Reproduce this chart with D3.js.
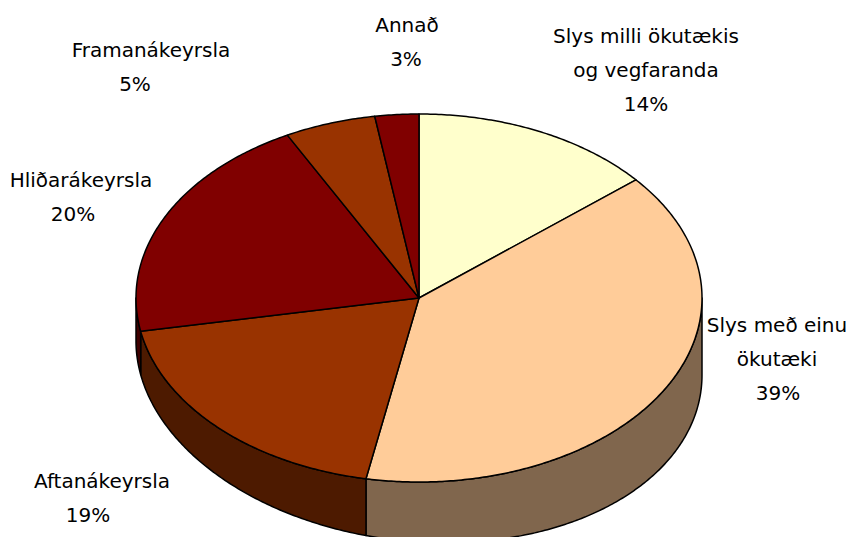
<!DOCTYPE html>
<html><head><meta charset="utf-8">
<script src="https://cdn.jsdelivr.net/npm/d3@7"></script>
<style>body{margin:0;background:#fff} svg{display:block}</style>
</head><body>
<svg id="chart" width="853" height="537"></svg>
<script>
// ---- data ----
const categories = ["Slys milli ökutækis og vegfaranda", "Slys með einu ökutæki", "Aftanákeyrsla", "Hliðarákeyrsla", "Framanákeyrsla", "Annað"];
const values = [13.9, 39.1, 19.1, 20.2, 5.2, 2.5];
const colors = ["#FFFFCC", "#FFCC99", "#993300", "#800000", "#993300", "#800000"];
// how category names wrap into lines
const labelLines = [["Slys milli ökutækis", "og vegfaranda"], ["Slys með einu", "ökutæki"], ["Aftanákeyrsla"], ["Hliðarákeyrsla"], ["Framanákeyrsla"], ["Annað"]];

// ---- layout ----
const W = 853, H = 537;
const cx = 419, cy = 298, rx = 283, ry = 184;
const depth0 = 60, depthSlope = 0.06;
const labelLayout = [
  {x: 646, px: 646, y: 43},
  {x: 777, px: 778, y: 332},
  {x: 102, px: 88, y: 488},
  {x: 81, px: 73, y: 187},
  {x: 151, px: 135, y: 57},
  {x: 407, px: 406, y: 32}
];
const lineGap = 34;

const svg = d3.select("#chart");
const total = d3.sum(values);
const pie = d3.pie().sort(null).value(d => d).startAngle(0).endAngle(2 * Math.PI);
const arcs = pie(values);

const topPt = t => [cx + rx * Math.sin(t), cy - ry * Math.cos(t)];
const bottomPt = t => { const p = topPt(t); return [p[0], p[1] + depth0 + depthSlope * (p[0] - cx)]; };
const line = d3.line();
const darken = c => { const r = d3.rgb(c); return d3.rgb(r.r * 0.5, r.g * 0.5, r.b * 0.5).formatHex(); };

// side walls (front half only)
const front = [Math.PI / 2, 3 * Math.PI / 2];
const wallG = svg.append("g");
arcs.forEach((a, i) => {
  const s = Math.max(a.startAngle, front[0]), e = Math.min(a.endAngle, front[1]);
  if (e <= s) return;
  const n = Math.max(8, Math.ceil((e - s) / 0.01));
  const ts = d3.range(n + 1).map(k => s + (e - s) * k / n);
  const pts = ts.map(topPt).concat(ts.slice().reverse().map(bottomPt));
  wallG.append("path")
    .attr("d", line(pts) + "Z")
    .attr("fill", darken(colors[i]))
    .attr("stroke", "#000").attr("stroke-width", 1.5).attr("stroke-linejoin", "round");
});

// top faces
const topG = svg.append("g");
arcs.forEach((a, i) => {
  const n = Math.max(8, Math.ceil((a.endAngle - a.startAngle) / 0.01));
  const pts = [[cx, cy]].concat(d3.range(n + 1).map(k => topPt(a.startAngle + (a.endAngle - a.startAngle) * k / n)));
  topG.append("path")
    .attr("d", line(pts) + "Z")
    .attr("fill", colors[i])
    .attr("stroke", "#000").attr("stroke-width", 1.5).attr("stroke-linejoin", "round");
});

// labels
const lg = svg.append("g")
  .attr("font-family", "'DejaVu Sans', Verdana, sans-serif")
  .attr("font-size", 20).attr("fill", "#000").attr("text-anchor", "middle");
categories.forEach((c, i) => {
  const L = labelLayout[i];
  const lines = labelLines[i];
  lines.forEach((t, j) => {
    lg.append("text").attr("x", L.x).attr("y", L.y + j * lineGap).text(t);
  });
  lg.append("text").attr("x", L.px).attr("y", L.y + lines.length * lineGap)
    .text(Math.round(values[i] / total * 100) + "%");
});
</script>
</body></html>
